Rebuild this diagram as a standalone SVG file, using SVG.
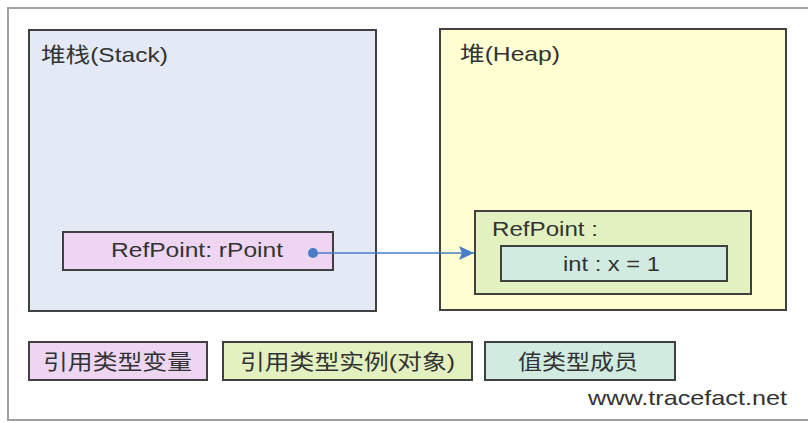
<svg xmlns="http://www.w3.org/2000/svg" width="808" height="423" viewBox="0 0 808 423">
  <style>
    .frame { fill: #ffffff; stroke: #a0a0a0; stroke-width: 2; }
    .box { stroke: #404040; stroke-width: 2; }
    .lbl { font-family: "Liberation Sans", Arial, sans-serif; font-size: 21px; fill: #333333; }
    .cjk { font-family: "Liberation Sans", "Noto Sans CJK SC", sans-serif; font-size: 21px; fill: #333333; }
    .stack { fill: #e4eaf5; }
    .heap { fill: #ffffd2; }
    .refvar { fill: #eed6f3; }
    .refobj { fill: #e3f0bf; }
    .valmem { fill: #d1ebe1; }
    .link { stroke: #4a7cc8; stroke-width: 1.5; fill: none; }
  </style>
  <defs>
    <marker id="arrow" viewBox="0 0 15 14" refX="15" refY="7" markerWidth="15" markerHeight="14" markerUnits="userSpaceOnUse" orient="auto">
      <path d="M0,0 L15,7 L0,14 L3,7 Z" fill="#4a7cc8"/>
    </marker>
  </defs>

  <!-- outer frame -->
  <rect class="frame" x="8" y="8" width="820" height="412"/>

  <!-- stack region -->
  <g id="stack">
    <rect class="box stack" x="29" y="30" width="347" height="281"/>
    <text class="cjk" x="41" y="62" textLength="127" lengthAdjust="spacingAndGlyphs">堆栈(Stack)</text>
  </g>

  <!-- heap region -->
  <g id="heap">
    <rect class="box heap" x="440" y="29" width="346" height="281"/>
    <text class="cjk" x="460" y="61" textLength="100" lengthAdjust="spacingAndGlyphs">堆(Heap)</text>
  </g>

  <!-- reference variable on the stack -->
  <g id="rpoint">
    <rect class="box refvar" x="63" y="232" width="270" height="38"/>
    <text class="lbl" x="111" y="257" textLength="172" lengthAdjust="spacingAndGlyphs">RefPoint: rPoint</text>
    <circle cx="313" cy="253" r="5" fill="#4a7cc8"/>
  </g>

  <!-- object instance on the heap -->
  <g id="refpoint-object">
    <rect class="box refobj" x="475" y="211" width="276" height="83"/>
    <text class="lbl" x="492" y="236" textLength="106" lengthAdjust="spacingAndGlyphs">RefPoint :</text>
  </g>

  <!-- value-type member -->
  <g id="field-x">
    <rect class="box valmem" x="501" y="246" width="226" height="35"/>
    <text class="lbl" x="563" y="271" textLength="97" lengthAdjust="spacingAndGlyphs">int : x = 1</text>
  </g>

  <!-- connectors -->
  <g id="connectors">
    <line class="link" x1="313" y1="253" x2="474" y2="253" marker-end="url(#arrow)"/>
  </g>

  <!-- legend -->
  <g id="legend-refvar">
    <rect class="box refvar" x="29" y="342" width="178" height="38"/>
    <text class="cjk" x="43" y="369" textLength="149" lengthAdjust="spacingAndGlyphs">引用类型变量</text>
  </g>
  <g id="legend-refobj">
    <rect class="box refobj" x="223" y="342" width="249" height="38"/>
    <text class="cjk" x="240" y="369" textLength="215" lengthAdjust="spacingAndGlyphs">引用类型实例(对象)</text>
  </g>
  <g id="legend-valmem">
    <rect class="box valmem" x="485" y="342" width="190" height="38"/>
    <text class="cjk" x="518" y="369" textLength="120" lengthAdjust="spacingAndGlyphs">值类型成员</text>
  </g>

  <text class="lbl" x="588" y="405" textLength="199" lengthAdjust="spacingAndGlyphs">www.tracefact.net</text>
</svg>
